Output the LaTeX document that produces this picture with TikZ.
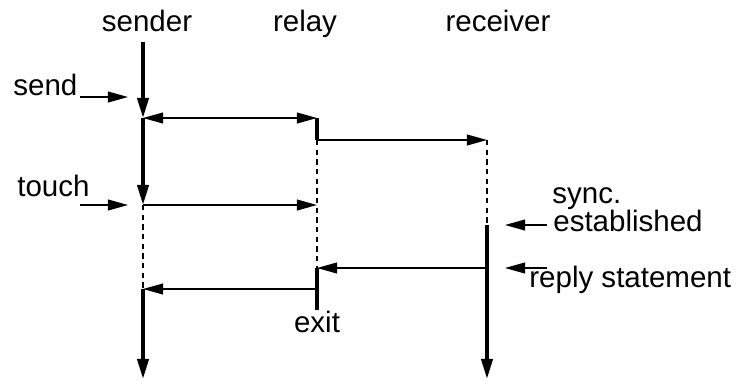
\documentclass[tikz,border=0pt]{standalone}
\usepackage{fontspec}
\setmainfont{Liberation Sans}
\usetikzlibrary{arrows.meta,positioning}

\begin{document}
\begin{tikzpicture}[x=0.02cm, y=-0.02cm, font=\fontsize{16.8}{19}\selectfont, every node/.style={inner sep=0pt}]
        \tikzset{
            act/.style={line width=2pt},
            wait/.style={line width=0.8pt, dash pattern=on 3pt off 2.5pt},
            msg/.style={-{Triangle[length=11.5pt, width=6.2pt]}, line width=0.85pt},
            both/.style={{Triangle[length=11.5pt, width=6.2pt]}-{Triangle[length=11.5pt, width=6.2pt]}, line width=0.85pt},
            down/.style={act, -{Triangle[length=11.5pt, width=6.4pt]}},
            lbl/.style={anchor=base west}
        }
        \useasboundingbox (0,0) rectangle (737,380);
        % lifeline heads
        \node[anchor=base] (snd) at (147,31) {sender};
        \node[anchor=base] (rel) at (305,31) {relay};
        \node[anchor=base] (rcv) at (498,31) {receiver};
        % points on the lifelines
        \coordinate (s0) at (143,42);
        \coordinate (s1) at (143,118);
        \coordinate (s2) at (143,205);
        \coordinate (s3) at (143,289);
        \coordinate (s4) at (143,379);
        \coordinate (r1) at (317,118);
        \coordinate (r2) at (317,140);
        \coordinate (rt) at (317,205);
        \coordinate (r3) at (317,268);
        \coordinate (rx) at (317,289);
        \coordinate (r4) at (317,310);
        \coordinate (c1) at (487,140);
        \coordinate (c2) at (487,225);
        \coordinate (c3) at (487,268);
        \coordinate (c4) at (487,379);
        % sender
        \draw[down] (s0) -- (s1);
        \draw[down] (s1) -- (s2);
        \draw[wait] (s2) -- (s3);
        \draw[down] (s3) -- (s4);
        % relay
        \draw[act] (r1) -- (r2);
        \draw[wait] (r2) -- (r3);
        \draw[act] (r3) -- (r4);
        \node[anchor=base] (exit) at (317,332) {exit};
        % receiver
        \draw[wait] (c1) -- (c2);
        \draw[down] (c2) -- (c4);
        % messages
        \draw[both] (s1) -- (r1);
        \draw[msg] (r2) -- (c1);
        \draw[msg] (s2) -- (rt);
        \draw[msg] (c3) -- (r3);
        \draw[msg] (rx) -- (s3);
        % side notes
        \node[lbl] (send) at (13,95) {send};
        \node[lbl] (touch) at (17,196) {touch};
        \node[lbl] (sync) at (552,203) {sync.};
        \node[lbl] (est) at (553,231) {established};
        \node[lbl] (reply) at (529,287) {reply statement};
        \coordinate (p1) at (80,97);   \coordinate (q1) at (128,97);
        \coordinate (p2) at (80,205);  \coordinate (q2) at (128,205);
        \coordinate (p3) at (547,225); \coordinate (q3) at (505,225);
        \coordinate (p4) at (547,268); \coordinate (q4) at (505,268);
        \draw[msg] (p1) -- (q1);
        \draw[msg] (p2) -- (q2);
        \draw[msg] (p3) -- (q3);
        \draw[msg] (p4) -- (q4);
    \end{tikzpicture}
\end{document}
